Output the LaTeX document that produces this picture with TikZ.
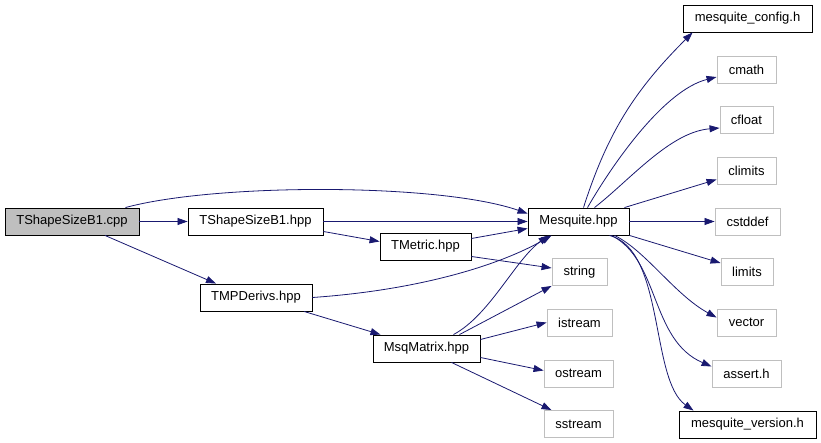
\documentclass[tikz,border=0pt]{standalone}
\usepackage{fontspec}
\setmainfont{Liberation Sans}
\usetikzlibrary{arrows.meta}
\definecolor{edgeblue}{HTML}{191970}
\definecolor{sysgray}{HTML}{BFBFBF}
\begin{document}
\begin{tikzpicture}[x=1pt, y=-1pt, >={Triangle[length=10pt,width=7pt]},
    font=\fontsize{13}{15}\selectfont,
    box/.style={draw, line width=0.9pt, minimum height=27pt, inner sep=0pt},
    sysbox/.style={box, draw=sysgray},
    edge/.style={->, edgeblue, line width=0.8pt}]
    \useasboundingbox (0,0) rectangle (821,443);

    % project files
    \node[box, fill=sysgray, minimum width=134pt] (cpp) at (72,221.5) {TShapeSizeB1.cpp};
    \node[box, minimum width=135pt] (shpp) at (255.5,221.5) {TShapeSizeB1.hpp};
    \node[box, minimum width=112pt] (tmp) at (256,297.5) {TMPDerivs.hpp};
    \node[box, minimum width=91pt] (tmetric) at (425.5,246.5) {TMetric.hpp};
    \node[box, minimum width=107pt] (msq) at (426.5,348.5) {MsqMatrix.hpp};
    \node[box, minimum width=101pt] (mesq) at (578.5,221.5) {Mesquite.hpp};
    \node[box, minimum width=129pt] (config) at (747.5,18.5) {mesquite\_config.h};
    \node[box, minimum width=137pt] (version) at (747.5,424.5) {mesquite\_version.h};

    % system headers
    \node[sysbox, minimum width=55pt] (string) at (579.5,272) {string};
    \node[sysbox, minimum width=65pt] (istream) at (579.5,322.5) {istream};
    \node[sysbox, minimum width=69pt] (ostream) at (578.5,373.5) {ostream};
    \node[sysbox, minimum width=69pt] (sstream) at (578.5,424) {sstream};
    \node[sysbox, minimum width=59pt] (cmath) at (746.5,70) {cmath};
    \node[sysbox, minimum width=53pt] (cfloat) at (746.5,120) {cfloat};
    \node[sysbox, minimum width=59pt] (climits) at (746.5,170.5) {climits};
    \node[sysbox, minimum width=65pt] (cstddef) at (747.5,221.5) {cstddef};
    \node[sysbox, minimum width=52pt] (limits) at (747,272) {limits};
    \node[sysbox, minimum width=59pt] (vector) at (746.5,322.5) {vector};
    \node[sysbox, minimum width=69pt] (assert) at (746.5,373.5) {assert.h};

    % includes
    \draw[edge] ([xshift=-14pt]cpp.north east) .. controls (216,183) and (440,183) .. ([yshift=-6pt]mesq.north west);
    \draw[edge] (cpp) -- (shpp);
    \draw[edge] ([xshift=33pt]cpp.south) -- ([xshift=-40pt]tmp.north);
    \draw[edge] (shpp) -- (mesq);
    \draw[edge] ([yshift=-10pt]shpp.east) -- ([yshift=5pt]tmetric.west);
    \draw[edge] ([yshift=8pt]tmetric.east) -- ([yshift=-7pt]mesq.west);
    \draw[edge] ([yshift=-10pt]tmetric.east) -- ([yshift=4pt]string.west);
    \draw[edge] (tmp.east) .. controls (420,290) and (500,265) .. ([xshift=-27pt]mesq.south);
    \draw[edge] ([xshift=48pt]tmp.south) -- ([xshift=-46pt]msq.north);
    \draw[edge] ([xshift=27pt]msq.north) .. controls (490,315) and (515,260) .. ([xshift=-30pt]mesq.south);
    \draw[edge] ([xshift=33pt]msq.north) -- (string.south west);
    \draw[edge] ([yshift=9pt]msq.east) -- (istream.west);
    \draw[edge] ([yshift=-9pt]msq.east) -- ([yshift=3pt]ostream.west);
    \draw[edge] ([xshift=25pt]msq.south) -- ([xshift=-27pt]sstream.north);

    \draw[edge] ([xshift=5pt]mesq.north) .. controls (608,131) and (636,89) .. ([xshift=10pt]config.south west);
    \draw[edge] ([xshift=9pt]mesq.north) .. controls (615,160) and (665,90) .. ([yshift=-7pt]cmath.west);
    \draw[edge] ([xshift=16pt]mesq.north) .. controls (630,180) and (670,132) .. ([yshift=-8pt]cfloat.west);
    \draw[edge] ([xshift=46pt]mesq.north) -- ([yshift=-9pt]climits.west);
    \draw[edge] (mesq) -- (cstddef);
    \draw[edge] (mesq.south east) -- ([yshift=9pt]limits.west);
    \draw[edge] ([xshift=36pt]mesq.south) .. controls (645,250) and (675,295) .. ([yshift=5pt]vector.west);
    \draw[edge] ([xshift=33pt]mesq.south) .. controls (660,260) and (650,340) .. ([yshift=7pt]assert.west);
    \draw[edge] ([xshift=31pt]mesq.south) .. controls (665,250) and (650,380) .. ([xshift=-54pt]version.north);
\end{tikzpicture}
\end{document}
